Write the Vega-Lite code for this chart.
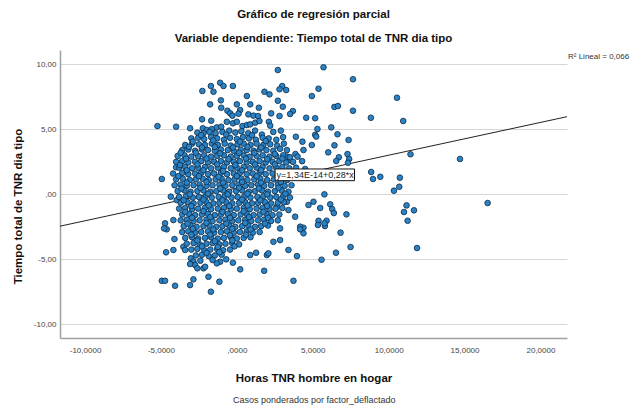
{
"$schema":"https://vega.github.io/schema/vega-lite/v6.json",
"width":507,"height":288,
"autosize":{"type":"none"},
"padding":{"left":60,"top":50,"right":64,"bottom":71},
"background":"white",
"title":{"text":["Gráfico de regresión parcial","Variable dependiente: Tiempo total de TNR dia tipo"],"anchor":"middle","font":"Liberation Sans","fontSize":11.5,"fontWeight":"bold","color":"#111111","lineHeight":24,"offset":6},
"config":{"view":{"stroke":null},"font":"Liberation Sans"},
"datasets":{
"fit":[{"x":-11.65,"y":-2.45},{"x":21.75,"y":5.97}],
"ann":[{"x":2.52,"x2":7.75,"y":1.95,"y2":1.05,"tx":2.62,"ty":1.5,"label":"y=1,34E-14+0,28*x"}],
"r2":[{"x":21.75,"y":10.56,"label":"R² Lineal = 0,066"}],
"foot":[{"x":5.1,"y":-15.8,"label":"Casos ponderados por factor_deflactado"}],
"pts":[
{"x":5.71,"y":9.77},{"x":7.65,"y":8.85},{"x":5.38,"y":8.12},{"x":4.94,"y":7.56},{"x":10.55,"y":7.43},{"x":6.43,"y":6.72},{"x":6.66,"y":6.79},{"x":7.65,"y":6.43},{"x":4.57,"y":5.89},{"x":5.16,"y":5.85},{"x":8.83,"y":5.89},{"x":10.96,"y":5.64},{"x":5.31,"y":5.02},{"x":6.22,"y":5.15},{"x":5.16,"y":4.58},{"x":6.63,"y":4.62},{"x":7.36,"y":4.18},{"x":6.43,"y":3.77},{"x":6.02,"y":3.23},{"x":7.29,"y":3.1},{"x":6.72,"y":2.85},{"x":6.55,"y":2.56},{"x":7.4,"y":2.72},{"x":7.32,"y":2.43},{"x":11.44,"y":3.08},{"x":14.7,"y":2.72},{"x":8.85,"y":1.72},{"x":8.97,"y":1.18},{"x":9.45,"y":1.35},{"x":10.74,"y":1.28},{"x":10.7,"y":0.58},{"x":10.35,"y":0.28},{"x":5.77,"y":0},{"x":16.52,"y":-0.67},{"x":11.18,"y":-0.85},{"x":11.01,"y":-1.36},{"x":11.67,"y":-1.23},{"x":11.25,"y":-2.03},{"x":5.49,"y":-1.05},{"x":6.15,"y":-0.77},{"x":6.28,"y":-1.13},{"x":6.39,"y":-1.44},{"x":7.22,"y":-1.54},{"x":5.38,"y":-2.03},{"x":5.91,"y":-2.03},{"x":5.34,"y":-2.36},{"x":5.8,"y":-2.44},{"x":5.77,"y":-2.23},{"x":4.39,"y":-2.57},{"x":6.83,"y":-2.95},{"x":11.87,"y":-4.13},{"x":7.49,"y":-4.05},{"x":6.53,"y":-4.49},{"x":5.58,"y":-5.03},
{"x":4.17,"y":-2.49},{"x":4.39,"y":-3.0},{"x":4.17,"y":-2.69},{"x":2.85,"y":-3.52},{"x":2.41,"y":-3.65},{"x":2.85,"y":-2.62},{"x":3.84,"y":-1.72},{"x":3.4,"y":-1.21},{"x":2.64,"y":-0.95},{"x":4.72,"y":-0.82},{"x":5.05,"y":-0.57},{"x":3.3,"y":-0.57},{"x":3.4,"y":-4.28},{"x":3.96,"y":-4.75},
{"x":-4.73,"y":-2.23},{"x":-4.62,"y":-2.69},{"x":-4.79,"y":-2.62},{"x":-4.18,"y":-1.98},{"x":-4.11,"y":-3.44},{"x":-4.66,"y":-4.46},{"x":-4.18,"y":-4.28},{"x":-3.52,"y":-4.03},{"x":-3.41,"y":-4.28},{"x":-3.03,"y":-4.92},{"x":-2.86,"y":-5.18},{"x":-2.75,"y":-5.44},{"x":-3.08,"y":-5.36},{"x":-2.6,"y":-5.69},{"x":-2.2,"y":-5.69},{"x":-1.87,"y":-6.34},{"x":-2.09,"y":-5.57},{"x":-4.94,"y":-6.65},{"x":-4.73,"y":-6.65},{"x":-4.07,"y":-7.03},{"x":-3.08,"y":-6.98},{"x":-2.86,"y":-6.54},{"x":-1.71,"y":-7.49},{"x":-1.15,"y":-6.72},{"x":0.22,"y":-5.77},{"x":1.8,"y":-5.88},{"x":3.73,"y":-6.65},{"x":-0.26,"y":-5.26},{"x":-1.1,"y":-5.18},{"x":-1.32,"y":-5.31},{"x":0.88,"y":-4.67},{"x":1.27,"y":-4.49},{"x":1.98,"y":-4.67},{"x":2.08,"y":-4.54},
{"x":2.7,"y":9.56},{"x":-1.1,"y":8.58},{"x":-0.88,"y":8.33},{"x":-1.71,"y":8.33},{"x":-1.54,"y":7.89},{"x":-0.26,"y":8.33},{"x":-2.27,"y":7.95},{"x":1.82,"y":7.89},{"x":2.15,"y":7.69},{"x":2.99,"y":8.33},{"x":2.81,"y":8.08},{"x":3.25,"y":8.02},{"x":0.66,"y":7.56},{"x":-1.76,"y":6.92},{"x":-1.05,"y":7.23},{"x":0.0,"y":6.92},{"x":0.88,"y":6.92},{"x":1.45,"y":6.66},{"x":2.7,"y":7.2},{"x":3.03,"y":6.74},{"x":3.69,"y":6.41},{"x":3.51,"y":6.18},{"x":-1.03,"y":6.66},{"x":-0.62,"y":6.43},{"x":-0.44,"y":6.23},{"x":-0.29,"y":6.05},{"x":0.22,"y":6.48},{"x":0.11,"y":6.2},{"x":0.76,"y":6.15},{"x":1.09,"y":6.05},{"x":1.4,"y":6.02},{"x":2.26,"y":6.23},{"x":2.11,"y":5.58},{"x":2.81,"y":6.02},{"x":2.2,"y":5.28},{"x":-2.29,"y":5.77},{"x":-1.69,"y":5.66},{"x":-5.23,"y":5.25},{"x":-4.0,"y":5.2},{"x":-3.08,"y":5.08},{"x":-2.24,"y":5.08},{"x":-1.98,"y":4.95},{"x":-1.65,"y":5.02},{"x":-1.32,"y":5.15},{"x":-1.03,"y":5.2},{"x":-0.66,"y":5.58},{"x":-0.26,"y":5.46},{"x":0,"y":5.58},{"x":0.37,"y":5.25},{"x":0.66,"y":5.33},{"x":0.88,"y":5.38},{"x":1.21,"y":5.51},{"x":1.49,"y":5.64},
{"x":-4.0,"y":2.08},{"x":-4.94,"y":1.18},{"x":-4.35,"y":-0.18},{"x":-3.96,"y":-0.44},
{"x":5.23,"y":4.44},{"x":4.94,"y":3.79},{"x":4.32,"y":4.05},{"x":3.89,"y":4.43},{"x":4.39,"y":3.41},{"x":3.86,"y":3.1},{"x":3.3,"y":2.9},{"x":3.51,"y":2.63},
{"x":-2.6,"y":4.75},{"x":-2.2,"y":4.7},{"x":-1.8,"y":4.8},{"x":-1.4,"y":4.7},{"x":-0.95,"y":4.8},{"x":-0.5,"y":4.9},{"x":-0.1,"y":4.75},{"x":0.3,"y":4.85},{"x":0.75,"y":4.7},{"x":1.2,"y":4.9},{"x":1.65,"y":4.6},{"x":2.4,"y":4.8},{"x":2.9,"y":4.9},
{"x":-3.0,"y":4.3},{"x":-2.55,"y":4.35},{"x":-2.15,"y":4.25},{"x":-1.7,"y":4.4},{"x":-1.3,"y":4.3},{"x":-0.85,"y":4.2},{"x":-0.45,"y":4.35},{"x":0.0,"y":4.25},{"x":0.4,"y":4.4},{"x":0.8,"y":4.3},{"x":1.25,"y":4.2},{"x":1.7,"y":4.35},{"x":2.1,"y":4.3},{"x":2.6,"y":4.2},{"x":3.05,"y":4.4},
{"x":-3.4,"y":3.8},{"x":-2.95,"y":3.9},{"x":-2.5,"y":3.85},{"x":-2.1,"y":3.8},{"x":-1.65,"y":3.9},{"x":-1.25,"y":3.8},{"x":-0.8,"y":3.9},{"x":-0.4,"y":3.75},{"x":0.05,"y":3.85},{"x":0.45,"y":3.9},{"x":0.9,"y":3.8},{"x":1.3,"y":3.9},{"x":1.75,"y":3.8},{"x":2.2,"y":3.85},{"x":2.65,"y":3.75},{"x":3.1,"y":3.9},
{"x":-3.6,"y":3.4},{"x":-3.2,"y":3.45},{"x":-2.75,"y":3.35},{"x":-2.3,"y":3.45},{"x":-1.9,"y":3.4},{"x":-1.45,"y":3.35},{"x":-1.05,"y":3.45},{"x":-0.6,"y":3.4},{"x":-0.2,"y":3.35},{"x":0.25,"y":3.45},{"x":0.65,"y":3.4},{"x":1.1,"y":3.35},{"x":1.5,"y":3.45},{"x":1.95,"y":3.4},{"x":2.4,"y":3.35},{"x":2.85,"y":3.5},{"x":3.3,"y":3.4},
{"x":-3.9,"y":2.95},{"x":-3.45,"y":3.0},{"x":-3.0,"y":2.9},{"x":-2.55,"y":2.95},{"x":-2.15,"y":3.0},{"x":-1.7,"y":2.9},{"x":-1.3,"y":2.95},{"x":-0.85,"y":3.0},{"x":-0.4,"y":2.9},{"x":0.0,"y":2.95},{"x":0.45,"y":3.0},{"x":0.85,"y":2.9},{"x":1.3,"y":2.95},{"x":1.7,"y":3.0},{"x":2.15,"y":2.9},{"x":2.6,"y":2.95},{"x":3.05,"y":3.0},{"x":3.5,"y":2.85},{"x":4.0,"y":2.9},
{"x":-4.0,"y":2.5},{"x":-3.6,"y":2.55},{"x":-3.2,"y":2.45},{"x":-2.75,"y":2.5},{"x":-2.35,"y":2.55},{"x":-1.9,"y":2.45},{"x":-1.5,"y":2.5},{"x":-1.05,"y":2.55},{"x":-0.65,"y":2.45},{"x":-0.2,"y":2.5},{"x":0.2,"y":2.55},{"x":0.65,"y":2.45},{"x":1.05,"y":2.5},{"x":1.5,"y":2.55},{"x":1.9,"y":2.45},{"x":2.35,"y":2.5},{"x":2.8,"y":2.55},{"x":3.25,"y":2.45},{"x":3.7,"y":2.5},{"x":4.3,"y":2.55},
{"x":-3.8,"y":2.05},{"x":-3.4,"y":2.1},{"x":-2.95,"y":2.0},{"x":-2.55,"y":2.05},{"x":-2.1,"y":2.1},{"x":-1.7,"y":2.0},{"x":-1.25,"y":2.05},{"x":-0.85,"y":2.1},{"x":-0.4,"y":2.0},{"x":0.0,"y":2.05},{"x":0.45,"y":2.1},{"x":0.85,"y":2.0},{"x":1.3,"y":2.05},{"x":1.7,"y":2.1},{"x":2.15,"y":2.0},{"x":2.6,"y":2.05},{"x":3.0,"y":2.1},{"x":3.45,"y":2.0},{"x":3.9,"y":2.05},{"x":4.5,"y":1.95},
{"x":-4.2,"y":1.6},{"x":-3.6,"y":1.65},{"x":-3.2,"y":1.55},{"x":-2.75,"y":1.6},{"x":-2.35,"y":1.65},{"x":-1.9,"y":1.55},{"x":-1.5,"y":1.6},{"x":-1.05,"y":1.65},{"x":-0.65,"y":1.55},{"x":-0.2,"y":1.6},{"x":0.2,"y":1.65},{"x":0.65,"y":1.55},{"x":1.05,"y":1.6},{"x":1.5,"y":1.65},{"x":1.9,"y":1.55},{"x":2.35,"y":1.6},{"x":2.8,"y":1.65},{"x":3.2,"y":1.55},{"x":3.7,"y":1.6},
{"x":-4.0,"y":1.15},{"x":-3.55,"y":1.2},{"x":-3.1,"y":1.1},{"x":-2.7,"y":1.15},{"x":-2.25,"y":1.2},{"x":-1.85,"y":1.1},{"x":-1.4,"y":1.15},{"x":-1.0,"y":1.2},{"x":-0.55,"y":1.1},{"x":-0.15,"y":1.15},{"x":0.3,"y":1.2},{"x":0.7,"y":1.1},{"x":1.15,"y":1.15},{"x":1.55,"y":1.2},{"x":2.0,"y":1.1},{"x":2.45,"y":1.15},{"x":2.9,"y":1.2},{"x":3.3,"y":1.1},
{"x":-4.1,"y":0.7},{"x":-3.7,"y":0.75},{"x":-3.3,"y":0.65},{"x":-2.85,"y":0.7},{"x":-2.45,"y":0.75},{"x":-2.0,"y":0.65},{"x":-1.6,"y":0.7},{"x":-1.15,"y":0.75},{"x":-0.75,"y":0.65},{"x":-0.3,"y":0.7},{"x":0.1,"y":0.75},{"x":0.55,"y":0.65},{"x":0.95,"y":0.7},{"x":1.4,"y":0.75},{"x":1.8,"y":0.65},{"x":2.25,"y":0.7},{"x":2.7,"y":0.75},{"x":3.15,"y":0.65},{"x":3.6,"y":0.7},
{"x":-3.9,"y":0.25},{"x":-3.45,"y":0.3},{"x":-3.05,"y":0.2},{"x":-2.6,"y":0.25},{"x":-2.2,"y":0.3},{"x":-1.75,"y":0.2},{"x":-1.35,"y":0.25},{"x":-0.9,"y":0.3},{"x":-0.5,"y":0.2},{"x":-0.05,"y":0.25},{"x":0.35,"y":0.3},{"x":0.8,"y":0.2},{"x":1.2,"y":0.25},{"x":1.65,"y":0.3},{"x":2.05,"y":0.2},{"x":2.5,"y":0.25},{"x":2.95,"y":0.3},{"x":3.4,"y":0.2},
{"x":-3.8,"y":-0.2},{"x":-3.35,"y":-0.15},{"x":-2.9,"y":-0.25},{"x":-2.5,"y":-0.2},{"x":-2.05,"y":-0.15},{"x":-1.65,"y":-0.25},{"x":-1.2,"y":-0.2},{"x":-0.8,"y":-0.15},{"x":-0.35,"y":-0.25},{"x":0.05,"y":-0.2},{"x":0.5,"y":-0.15},{"x":0.9,"y":-0.25},{"x":1.35,"y":-0.2},{"x":1.75,"y":-0.15},{"x":2.2,"y":-0.25},{"x":2.6,"y":-0.2},{"x":3.05,"y":-0.15},{"x":3.5,"y":-0.25},
{"x":-3.7,"y":-0.65},{"x":-3.25,"y":-0.6},{"x":-2.85,"y":-0.7},{"x":-2.4,"y":-0.65},{"x":-2.0,"y":-0.6},{"x":-1.55,"y":-0.7},{"x":-1.15,"y":-0.65},{"x":-0.7,"y":-0.6},{"x":-0.3,"y":-0.7},{"x":0.15,"y":-0.65},{"x":0.55,"y":-0.6},{"x":1.0,"y":-0.7},{"x":1.4,"y":-0.65},{"x":1.85,"y":-0.6},{"x":2.25,"y":-0.7},{"x":2.7,"y":-0.65},{"x":3.1,"y":-0.6},
{"x":-3.8,"y":-1.1},{"x":-3.4,"y":-1.05},{"x":-2.95,"y":-1.15},{"x":-2.55,"y":-1.1},{"x":-2.1,"y":-1.05},{"x":-1.7,"y":-1.15},{"x":-1.25,"y":-1.1},{"x":-0.85,"y":-1.05},{"x":-0.4,"y":-1.15},{"x":0.0,"y":-1.1},{"x":0.45,"y":-1.05},{"x":0.85,"y":-1.15},{"x":1.3,"y":-1.1},{"x":1.7,"y":-1.05},{"x":2.15,"y":-1.15},{"x":2.55,"y":-1.1},{"x":3.0,"y":-1.05},
{"x":-3.6,"y":-1.55},{"x":-3.15,"y":-1.5},{"x":-2.75,"y":-1.6},{"x":-2.3,"y":-1.55},{"x":-1.9,"y":-1.5},{"x":-1.45,"y":-1.6},{"x":-1.05,"y":-1.55},{"x":-0.6,"y":-1.5},{"x":-0.2,"y":-1.6},{"x":0.25,"y":-1.55},{"x":0.65,"y":-1.5},{"x":1.1,"y":-1.6},{"x":1.5,"y":-1.55},{"x":1.95,"y":-1.5},{"x":2.35,"y":-1.6},{"x":2.8,"y":-1.55},
{"x":-3.7,"y":-2.0},{"x":-3.3,"y":-1.95},{"x":-2.85,"y":-2.05},{"x":-2.45,"y":-2.0},{"x":-2.0,"y":-1.95},{"x":-1.6,"y":-2.05},{"x":-1.15,"y":-2.0},{"x":-0.75,"y":-1.95},{"x":-0.3,"y":-2.05},{"x":0.1,"y":-2.0},{"x":0.55,"y":-1.95},{"x":0.95,"y":-2.05},{"x":1.4,"y":-2.0},{"x":1.8,"y":-1.95},{"x":2.25,"y":-2.05},{"x":2.7,"y":-2.0},
{"x":-3.5,"y":-2.45},{"x":-3.05,"y":-2.4},{"x":-2.65,"y":-2.5},{"x":-2.2,"y":-2.45},{"x":-1.8,"y":-2.4},{"x":-1.35,"y":-2.5},{"x":-0.95,"y":-2.45},{"x":-0.5,"y":-2.4},{"x":-0.1,"y":-2.5},{"x":0.35,"y":-2.45},{"x":0.75,"y":-2.4},{"x":1.2,"y":-2.5},{"x":1.6,"y":-2.45},{"x":2.05,"y":-2.4},
{"x":-3.6,"y":-2.9},{"x":-3.2,"y":-2.85},{"x":-2.75,"y":-2.95},{"x":-2.35,"y":-2.9},{"x":-1.9,"y":-2.85},{"x":-1.5,"y":-2.95},{"x":-1.05,"y":-2.9},{"x":-0.65,"y":-2.85},{"x":-0.2,"y":-2.95},{"x":0.2,"y":-2.9},{"x":0.65,"y":-2.85},{"x":1.05,"y":-2.95},{"x":1.5,"y":-2.9},
{"x":-3.4,"y":-3.35},{"x":-2.95,"y":-3.3},{"x":-2.55,"y":-3.4},{"x":-2.1,"y":-3.35},{"x":-1.7,"y":-3.3},{"x":-1.25,"y":-3.4},{"x":-0.85,"y":-3.35},{"x":-0.4,"y":-3.3},{"x":0.0,"y":-3.4},{"x":0.45,"y":-3.35},{"x":0.9,"y":-3.3},
{"x":-3.3,"y":-3.8},{"x":-2.85,"y":-3.75},{"x":-2.45,"y":-3.85},{"x":-2.0,"y":-3.8},{"x":-1.6,"y":-3.75},{"x":-1.15,"y":-3.85},{"x":-0.75,"y":-3.8},{"x":-0.3,"y":-3.75},{"x":0.15,"y":-3.85},
{"x":-3.0,"y":-4.25},{"x":-2.6,"y":-4.2},{"x":-2.15,"y":-4.3},{"x":-1.75,"y":-4.25},{"x":-1.3,"y":-4.2},{"x":-0.9,"y":-4.3},{"x":-0.45,"y":-4.25},
{"x":-2.7,"y":-4.7},{"x":-2.3,"y":-4.65},{"x":-1.85,"y":-4.75},{"x":-1.45,"y":-4.7},{"x":-1.0,"y":-4.65},
{"x":-2.4,"y":-5.1},{"x":-1.6,"y":-5.05},{"x":-0.7,"y":-5.0},
{"x":-2.9,"y":4.05},{"x":-2.35,"y":4.55},{"x":-1.55,"y":4.15},{"x":-0.7,"y":4.6},{"x":0.2,"y":4.05},{"x":1.0,"y":4.55},{"x":1.9,"y":4.1},{"x":-3.15,"y":3.65},{"x":-2.3,"y":3.6},{"x":-1.45,"y":3.65},{"x":-0.25,"y":3.6},{"x":0.7,"y":3.65},{"x":1.6,"y":3.6},{"x":2.5,"y":3.1},{"x":-3.7,"y":3.2},{"x":-2.7,"y":3.2},{"x":-1.1,"y":3.15},{"x":0.15,"y":3.2},{"x":1.15,"y":3.2},{"x":-3.35,"y":2.75},{"x":-2.0,"y":2.75},{"x":-0.55,"y":2.7},{"x":0.6,"y":2.75},{"x":2.0,"y":2.7},{"x":3.0,"y":2.75},{"x":-3.75,"y":2.25},{"x":-2.6,"y":2.3},{"x":-1.3,"y":2.3},{"x":-0.1,"y":2.25},{"x":1.2,"y":2.3},{"x":2.5,"y":2.3},{"x":-3.3,"y":1.85},{"x":-2.2,"y":1.85},{"x":-0.9,"y":1.8},{"x":0.35,"y":1.85},{"x":1.6,"y":1.85},{"x":-3.85,"y":1.4},{"x":-2.5,"y":1.4},{"x":-1.2,"y":1.35},{"x":0.0,"y":1.4},{"x":1.3,"y":1.4},{"x":-3.3,"y":0.9},{"x":-2.0,"y":0.95},{"x":-0.9,"y":0.9},{"x":0.35,"y":0.95},{"x":1.6,"y":0.9},{"x":2.9,"y":0.95},{"x":-3.65,"y":0.45},{"x":-2.4,"y":0.5},{"x":-1.1,"y":0.45},{"x":0.15,"y":0.5},{"x":1.45,"y":0.45},{"x":2.75,"y":0.5},{"x":-3.1,"y":0.0},{"x":-1.9,"y":0.05},{"x":-0.6,"y":0.0},{"x":0.7,"y":0.05},{"x":2.0,"y":0.0},{"x":3.2,"y":0.05},{"x":-3.5,"y":-0.45},{"x":-2.2,"y":-0.4},{"x":-0.95,"y":-0.45},{"x":0.35,"y":-0.4},{"x":1.55,"y":-0.45},{"x":2.9,"y":-0.4},{"x":-3.0,"y":-0.9},{"x":-1.85,"y":-0.85},{"x":-0.5,"y":-0.9},{"x":0.7,"y":-0.85},{"x":2.0,"y":-0.9},{"x":-3.4,"y":-1.35},{"x":-2.2,"y":-1.3},{"x":-0.95,"y":-1.35},{"x":0.45,"y":-1.3},{"x":1.75,"y":-1.35},{"x":-2.95,"y":-1.8},{"x":-1.75,"y":-1.75},{"x":-0.45,"y":-1.8},{"x":0.8,"y":-1.75},{"x":2.05,"y":-1.8},{"x":-3.25,"y":-2.25},{"x":-2.0,"y":-2.2},{"x":-0.7,"y":-2.25},{"x":0.55,"y":-2.2},{"x":1.85,"y":-2.25},{"x":-2.9,"y":-2.65},{"x":-1.55,"y":-2.7},{"x":-0.3,"y":-2.65},{"x":0.9,"y":-2.7},{"x":-3.0,"y":-3.1},{"x":-1.75,"y":-3.1},{"x":-0.45,"y":-3.15},{"x":0.6,"y":-3.1},{"x":-2.6,"y":-3.55},{"x":-1.45,"y":-3.6},{"x":-0.3,"y":-3.55},{"x":-2.3,"y":-4.0},{"x":-1.25,"y":-4.05},{"x":-0.15,"y":-4.0},{"x":-2.0,"y":-4.5},{"x":-1.15,"y":-4.45}
]},
"layer":[
{"data":{"name":"fit"},"mark":{"type":"line","color":"#222222","strokeWidth":1},
"encoding":{
"x":{"field":"x","type":"quantitative","scale":{"domain":[-11.65,21.75],"nice":false,"zero":false},
"axis":{"values":[-10,-5,0,5,10,15,20],"labelExpr":"datum.value == 0 ? ',0000' : replace(replace(format(datum.value, '.4f'), '.', ','), '\u2212', '-')","grid":false,"ticks":false,"domainColor":"#a0a0a0","domainWidth":1.5,"labelFontSize":8,"labelColor":"#444444","labelPadding":8,"labelFont":"Liberation Sans","title":"Horas TNR hombre en hogar","titleFont":"Liberation Sans","titleFontSize":11.5,"titleFontWeight":"bold","titleColor":"#111111","titleY":40,"titleBaseline":"middle"}},
"y":{"field":"y","type":"quantitative","scale":{"domain":[-11.05,11.1],"nice":false,"zero":false},
"axis":{"values":[-10,-5,0,5,10],"labelExpr":"datum.value == 0 ? ',00' : replace(replace(format(datum.value, '.2f'), '.', ','), '\u2212', '-')","grid":true,"gridColor":"#d6d6d6","gridWidth":1,"ticks":false,"domainColor":"#a0a0a0","domainWidth":1.5,"labelFontSize":8,"labelColor":"#444444","labelPadding":4,"labelFont":"Liberation Sans","title":"Tiempo total de TNR dia tipo","titleFont":"Liberation Sans","titleFontSize":11.5,"titleFontWeight":"bold","titleColor":"#111111","titleX":-42,"titleY":156,"titleBaseline":"middle","titleAngle":-90}}}},
{"data":{"name":"pts"},"mark":{"type":"circle","size":32,"color":"#2b83c6","opacity":1,"stroke":"#0b2a45","strokeWidth":0.8},
"encoding":{"x":{"field":"x","type":"quantitative","scale":{"domain":[-11.65,21.75],"nice":false,"zero":false}},"y":{"field":"y","type":"quantitative","scale":{"domain":[-11.05,11.1],"nice":false,"zero":false}}}},
{"data":{"name":"ann"},"mark":{"type":"rect","fill":"white","stroke":"#111111","strokeWidth":1},
"encoding":{"x":{"field":"x","type":"quantitative"},"x2":{"field":"x2"},"y":{"field":"y","type":"quantitative"},"y2":{"field":"y2"}}},
{"data":{"name":"ann"},"mark":{"type":"text","align":"left","baseline":"middle","fontSize":9,"font":"Liberation Sans","color":"#222222"},
"encoding":{"x":{"field":"tx","type":"quantitative"},"y":{"field":"ty","type":"quantitative"},"text":{"field":"label"}}},
{"data":{"name":"r2"},"mark":{"type":"text","align":"left","baseline":"middle","fontSize":8,"font":"Liberation Sans","color":"#333333","dx":1},
"encoding":{"x":{"field":"x","type":"quantitative"},"y":{"field":"y","type":"quantitative"},"text":{"field":"label"}}},
{"data":{"name":"foot"},"mark":{"type":"text","align":"center","baseline":"middle","fontSize":9,"font":"Liberation Sans","color":"#333333"},
"encoding":{"x":{"field":"x","type":"quantitative"},"y":{"field":"y","type":"quantitative"},"text":{"field":"label"}}}
]
}
